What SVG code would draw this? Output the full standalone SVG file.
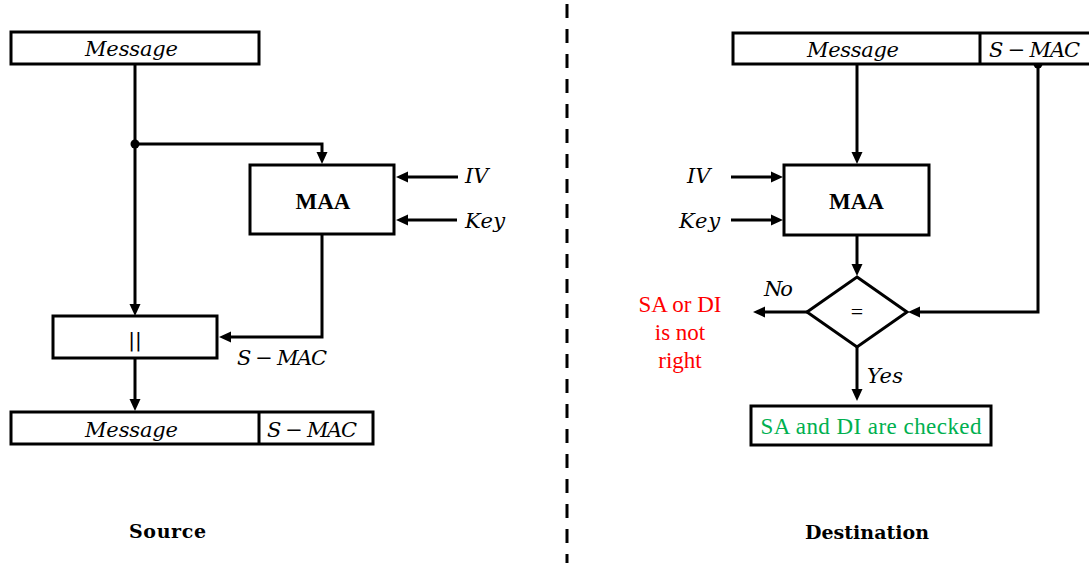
<svg xmlns="http://www.w3.org/2000/svg" width="1089" height="563" viewBox="0 0 1089 563">
<style>
.box{fill:#fff;stroke:#000;stroke-width:3}
.ln{fill:none;stroke:#000;stroke-width:3}
.arr{fill:none;stroke:#000;stroke-width:3;marker-end:url(#ah)}
.it{font-family:'DejaVu Serif',serif;font-style:italic;font-size:21px;fill:#000}
.bd{font-family:'Liberation Serif','DejaVu Serif',serif;font-weight:bold;font-size:23px;fill:#000}
.lbl{font-family:'DejaVu Serif',serif;font-weight:bold;font-size:19px;fill:#000}
.red{font-family:'Liberation Serif','DejaVu Serif',serif;font-size:23px;fill:#FF0000}
.grn{font-family:'Liberation Serif','DejaVu Serif',serif;font-size:23px;fill:#00B050}
</style>
<defs>
<marker id="ah" viewBox="0 0 12 12" markerUnits="userSpaceOnUse" markerWidth="12" markerHeight="12" refX="3" refY="6" orient="auto">
<path d="M0,0.5 L12,6 L0,11.5 z" fill="#000"/>
</marker>
</defs>
<rect width="1089" height="563" fill="#fff"/>

<g id="connectors">
<path class="arr" d="M135,64 V307"/>
<path class="arr" d="M135,144 H322 V155"/>
<path class="arr" d="M458,177 H405"/>
<path class="arr" d="M457,220 H405"/>
<path class="arr" d="M322,234 V337 H228"/>
<path class="arr" d="M135,358 V402"/>
<circle cx="135" cy="144" r="4.5" fill="#000"/>

<path class="arr" d="M857,64 V155"/>
<path class="arr" d="M731,177 H774"/>
<path class="arr" d="M731,220 H774"/>
<path class="arr" d="M857,235 V267"/>
<path class="arr" d="M1038,64 V312 H917"/>
<circle cx="1038" cy="64" r="4.5" fill="#000"/>
<path class="arr" d="M807,312 H762"/>
<path class="arr" d="M857,347 V392"/>
</g>

<path id="divider" d="M567,4 V563" fill="none" stroke="#000" stroke-width="3" stroke-dasharray="14 11"/>

<g id="src-message">
<rect class="box" x="11" y="32" width="248" height="32"/>
<text class="it" x="85" y="56" textLength="93">Message</text>
</g>
<g id="src-maa">
<rect class="box" x="250" y="165" width="144" height="69"/>
<text class="bd" x="323" y="209" text-anchor="middle">MAA</text>
</g>
<g id="src-iv"><text class="it" x="465" y="183">IV</text></g>
<g id="src-key"><text class="it" x="465" y="228" textLength="40">Key</text></g>
<g id="src-concat">
<rect class="box" x="53" y="316" width="164" height="42"/>
<text x="135" y="347" text-anchor="middle" font-family="DejaVu Sans, sans-serif" font-size="20" fill="#000">||</text>
</g>
<g id="src-smac-label"><text class="it" x="237" y="365" textLength="90">S − MAC</text></g>
<g id="src-output">
<rect class="box" x="11" y="412" width="362" height="32"/>
<path class="ln" d="M259,412 V444"/>
<text class="it" x="85" y="437" textLength="93">Message</text>
<text class="it" x="267" y="437" textLength="90">S − MAC</text>
</g>
<g id="src-title"><text class="lbl" x="129" y="538" textLength="77">Source</text></g>

<g id="dst-input">
<rect class="box" x="733" y="33" width="362" height="31"/>
<path class="ln" d="M980,33 V64"/>
<text class="it" x="807" y="57" textLength="92">Message</text>
<text class="it" x="989" y="57" textLength="91">S − MAC</text>
</g>
<g id="dst-iv"><text class="it" x="687" y="183">IV</text></g>
<g id="dst-key"><text class="it" x="679" y="228" textLength="41">Key</text></g>
<g id="dst-maa">
<rect class="box" x="784" y="165" width="145" height="70"/>
<text class="bd" x="856.5" y="209" text-anchor="middle">MAA</text>
</g>
<g id="dst-compare">
<polygon class="box" points="857,277 907,312 857,347 807,312"/>
<text x="857" y="319" text-anchor="middle" font-family="'Liberation Serif','DejaVu Serif',serif" font-size="22" fill="#000">=</text>
</g>
<g id="dst-no"><text class="it" x="764" y="296" textLength="29">No</text></g>
<g id="dst-yes"><text class="it" x="867" y="383" textLength="36">Yes</text></g>
<g id="dst-fail">
<text class="red" x="680" y="312" text-anchor="middle">SA or DI</text>
<text class="red" x="680" y="340" text-anchor="middle">is not</text>
<text class="red" x="680" y="368" text-anchor="middle">right</text>
</g>
<g id="dst-ok">
<rect class="box" x="751" y="406" width="240" height="39"/>
<text class="grn" x="760.5" y="434" textLength="221">SA and DI are checked</text>
</g>
<g id="dst-title"><text class="lbl" x="805" y="539" textLength="124">Destination</text></g>
</svg>
